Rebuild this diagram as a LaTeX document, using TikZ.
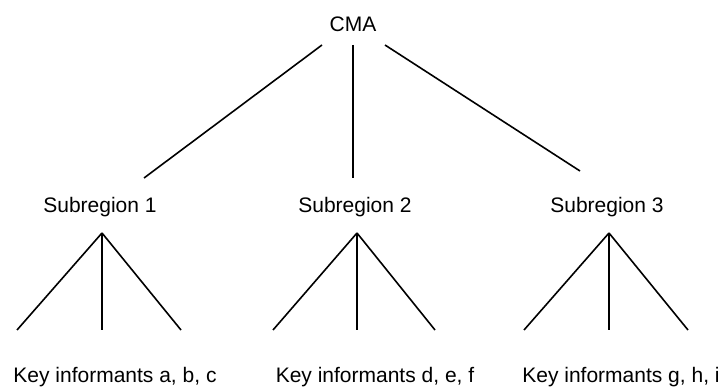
\documentclass[tikz,border=0pt]{standalone}
\usepackage{fontspec}
\setmainfont{Liberation Sans}
\begin{document}
\begin{tikzpicture}[x=1pt,y=-1pt,
  label/.style={font=\fontsize{21}{25}\selectfont, inner sep=0pt, anchor=base},
  branch/.style={draw=black, line width=1.6pt}]
\useasboundingbox (0,0) rectangle (723,387);

% labels
\node[label] (cma) at (353,32) {CMA};
\node[label] (s1) at (100,213) {Subregion 1};
\node[label] (s2) at (355,213) {Subregion 2};
\node[label] (s3) at (607,213) {Subregion 3};
\node[label] (k1) at (115,382) {Key informants a, b, c};
\node[label] (k2) at (375,382) {Key informants d, e, f};
\node[label] (k3) at (621,382) {Key informants g, h, i};

% top level branch points
\coordinate (cmaL) at (322,45);
\coordinate (cmaM) at (353,45);
\coordinate (cmaR) at (385,45);
\coordinate (s1in) at (144,178);
\coordinate (s2in) at (353,178);
\coordinate (s3in) at (580,171);

\draw[branch] (cmaL) -- (s1in);
\draw[branch] (cmaM) -- (s2in);
\draw[branch] (cmaR) -- (s3in);

% subregion apexes and informant leg ends
\coordinate (a1) at (102,233);
\coordinate (a2) at (357,233);
\coordinate (a3) at (609,233);
\foreach \n/\l/\m/\r in {1/17/102/181, 2/273/357/435, 3/524/609/688} {
  \coordinate (k\n l) at (\l,330);
  \coordinate (k\n m) at (\m,330);
  \coordinate (k\n r) at (\r,330);
  \draw[branch] (a\n) -- (k\n l);
  \draw[branch] (a\n) -- (k\n m);
  \draw[branch] (a\n) -- (k\n r);
}
\end{tikzpicture}
\end{document}
